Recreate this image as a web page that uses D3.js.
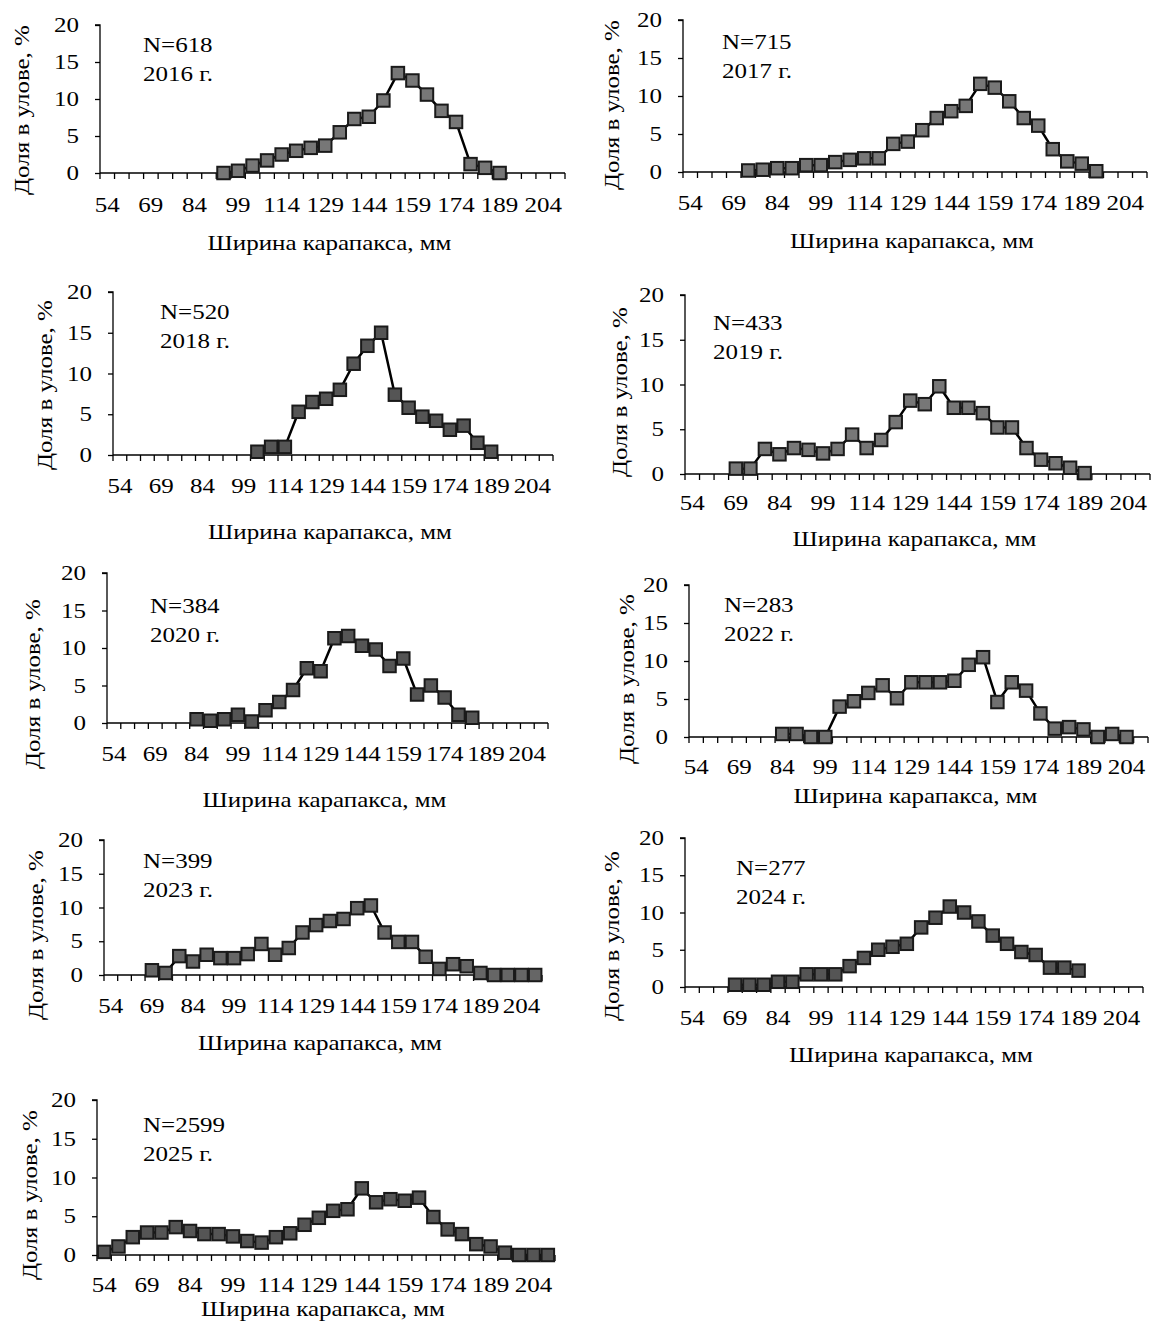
<!DOCTYPE html>
<html><head><meta charset="utf-8">
<script src="https://cdn.jsdelivr.net/npm/d3@7"></script>
<style>
html,body{margin:0;padding:0;background:#fff;}
text{font-family:"Liberation Serif","Times New Roman",serif;fill:#000;}
</style></head>
<body>
<svg id="c" width="1155" height="1323"></svg>
<script>
// Categories (carapace width, mm)
const categories = [54,59,64,69,74,79,84,89,94,99,104,109,114,119,124,129,134,139,144,149,154,159,164,169,174,179,184,189,194,199,204,209];
const tickLabels = [54,69,84,99,114,129,144,159,174,189,204];
const yTicks = [0,5,10,15,20];

// Series: first category and share values (%)
const years = ["2016","2017","2018","2019","2020","2022","2023","2024","2025"];
const sampleN = [618,715,520,433,384,283,399,277,2599];
const startCat = [94,74,104,69,84,84,69,69,54];
const v2016 = [0,0.3,1.0,1.7,2.5,3.0,3.4,3.7,5.5,7.3,7.6,9.8,13.5,12.5,10.6,8.4,6.9,1.2,0.7,0];
const v2017 = [0.2,0.3,0.5,0.5,0.9,0.9,1.3,1.6,1.8,1.8,3.7,4.0,5.5,7.1,8.0,8.7,11.6,11.1,9.3,7.1,6.1,3.0,1.4,1.1,0.1];
const v2018 = [0.4,1.0,1.0,5.3,6.5,6.9,8.0,11.2,13.4,15.0,7.4,5.8,4.7,4.2,3.1,3.6,1.5,0.4];
const v2019 = [0.6,0.6,2.8,2.2,2.9,2.7,2.3,2.8,4.4,2.9,3.8,5.8,8.2,7.8,9.8,7.4,7.4,6.8,5.2,5.2,2.9,1.6,1.2,0.7,0.1];
const v2020 = [0.5,0.3,0.5,1.1,0.2,1.7,2.8,4.4,7.3,6.9,11.3,11.6,10.3,9.8,7.6,8.6,3.8,5.0,3.4,1.1,0.7];
const v2022 = [0.4,0.4,0,0,4.0,4.7,5.8,6.8,5.1,7.2,7.2,7.2,7.4,9.5,10.5,4.6,7.2,6.1,3.1,1.1,1.3,1.0,0,0.4,0];
const v2023 = [0.7,0.3,2.8,2.0,3.0,2.5,2.5,3.1,4.6,3.0,4.0,6.3,7.4,8.0,8.3,9.9,10.3,6.3,4.9,4.9,2.7,0.9,1.6,1.3,0.3,0,0,0,0];
const v2024 = [0.3,0.3,0.3,0.7,0.7,1.7,1.7,1.7,2.8,3.9,5.0,5.4,5.8,8.0,9.3,10.8,10.0,8.8,6.9,5.8,4.7,4.3,2.6,2.6,2.2];
const v2025 = [0.4,1.1,2.3,2.9,2.9,3.6,3.1,2.7,2.7,2.4,1.8,1.6,2.3,2.8,3.9,4.8,5.7,5.9,8.6,6.8,7.2,7.0,7.4,4.9,3.3,2.7,1.4,1.1,0.3,0,0,0];
const values = [v2016,v2017,v2018,v2019,v2020,v2022,v2023,v2024,v2025];

const xTitle = "Ширина карапакса, мм";
const yTitle = "Доля в улове, %";

// Panel layout (pixels)
const layout = [
  {x0:100,x1:565,y0:173,y20:25, xlabY:212, xtY:250, ytX:22, ytY:110, nX:143, nY:52, fill:"#777"},
  {x0:683,x1:1147,y0:172,y20:20, xlabY:210, xtY:248, ytX:612, ytY:105, nX:722, nY:49, fill:"#777"},
  {x0:113,x1:553,y0:455,y20:292, xlabY:493, xtY:539, ytX:45, ytY:385, nX:160, nY:319, fill:"#555"},
  {x0:685,x1:1150,y0:474,y20:295, xlabY:510, xtY:546, ytX:620, ytY:392, nX:713, nY:330, fill:"#777"},
  {x0:107,x1:548,y0:723,y20:573, xlabY:761, xtY:807, ytX:33, ytY:684, nX:150, nY:613, fill:"#555"},
  {x0:689,x1:1148,y0:737,y20:585, xlabY:774, xtY:803, ytX:627, ytY:679, nX:724, nY:612, fill:"#707070"},
  {x0:104,x1:542,y0:975,y20:840, xlabY:1013, xtY:1050, ytX:36, ytY:935, nX:143, nY:868, fill:"#666"},
  {x0:685,x1:1143,y0:987,y20:838, xlabY:1025, xtY:1062, ytX:612, ytY:936, nX:736, nY:875, fill:"#555"},
  {x0:97,x1:555,y0:1255,y20:1100, xlabY:1292, xtY:1316, ytX:30, ytY:1195, nX:143, nY:1132, fill:"#555"}
];

const svg = d3.select("#c");
const FS = 21;
const SX = 1.19; // horizontal stretch of text, as in the source image

function label(g, x, y, str, anchor, rot){
  return g.append("text")
    .attr("transform",`translate(${x},${y})${rot?` rotate(${rot})`:""} scale(${SX},1)`)
    .attr("text-anchor",anchor||"start").attr("font-size",FS).text(str);
}

years.forEach((yr,i)=>{
  const L = layout[i];
  const g = svg.append("g");
  const x = d3.scaleBand().domain(categories).range([L.x0, L.x1]).padding(0);
  const y = d3.scaleLinear().domain([0,20]).range([L.y0, L.y20]);

  // y axis
  const ya = d3.axisLeft(y).tickValues(yTicks).tickSize(5).tickFormat("");
  const yg = g.append("g").attr("transform",`translate(${L.x0},0)`).call(ya);
  yg.select(".domain").attr("stroke","#000").attr("stroke-width",1.3).attr("d",`M-5,${L.y20}H0V${L.y0}`);
  yg.selectAll(".tick line").attr("stroke","#000").attr("stroke-width",1.3);
  yTicks.forEach(t=>{
    label(g, L.x0-21, y(t)+7, t, "end");
  });

  // x axis line
  g.append("line").attr("x1",L.x0).attr("x2",L.x1).attr("y1",L.y0).attr("y2",L.y0)
    .attr("stroke","#000").attr("stroke-width",1.3);
  // x ticks at band boundaries
  const bounds = categories.map(c=>x(c)).concat([x(categories[categories.length-1])+x.bandwidth()]);
  g.selectAll(".xt").data(bounds).enter().append("line")
    .attr("x1",d=>d).attr("x2",d=>d).attr("y1",L.y0).attr("y2",L.y0+6)
    .attr("stroke","#000").attr("stroke-width",1.3);
  // x tick labels
  tickLabels.forEach(d=>{
    label(g, x(d)+x.bandwidth()/2, L.xlabY, d, "middle");
  });

  // titles
  label(g, (L.x0+L.x1)/2 - 3, L.xtY, xTitle, "middle");
  label(g, L.ytX+7, L.ytY, yTitle, "middle", -90);

  // N and year
  label(g, L.nX, L.nY, "N="+sampleN[i], "start");
  label(g, L.nX, L.nY+29, yr+" г.", "start");

  // data
  const si = categories.indexOf(startCat[i]);
  const pts = values[i].map((v,k)=>({c:categories[si+k], v}));
  const line = d3.line().x(d=>x(d.c)+x.bandwidth()/2).y(d=>y(d.v));
  g.append("path").datum(pts).attr("d",line).attr("fill","none")
    .attr("stroke","#000").attr("stroke-width",2.5).attr("stroke-linejoin","round");
  const ms = 12.5;
  g.selectAll(".m").data(pts).enter().append("rect")
    .attr("x",d=>x(d.c)+x.bandwidth()/2-ms/2).attr("y",d=>y(d.v)-ms/2)
    .attr("width",ms).attr("height",ms)
    .attr("fill",L.fill).attr("stroke","#1a1a1a").attr("stroke-width",2);
});
</script>
</body></html>
